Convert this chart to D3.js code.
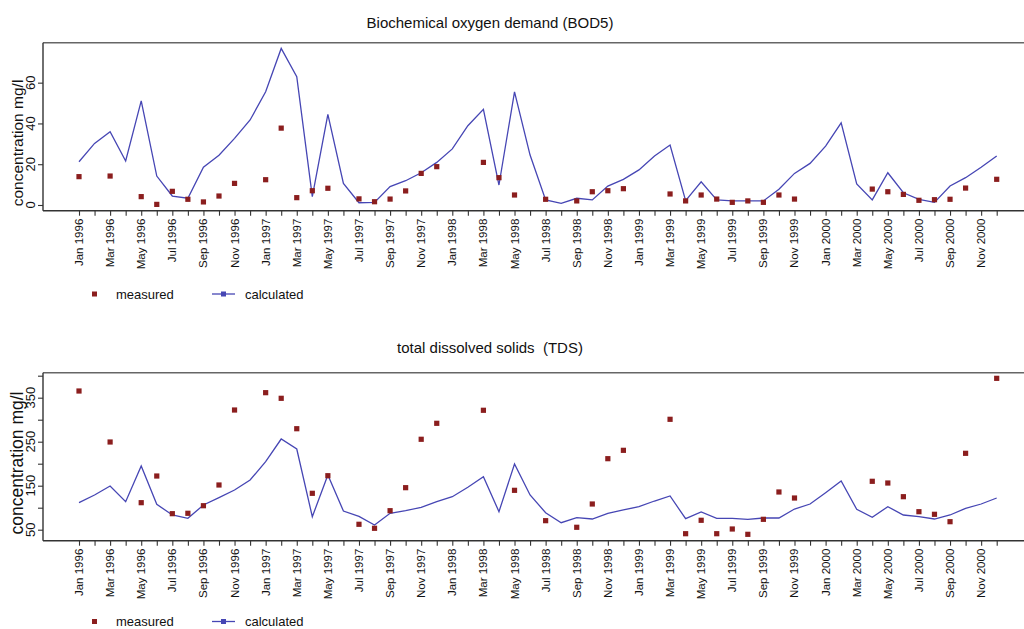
<!DOCTYPE html>
<html><head><meta charset="utf-8">
<script src="https://cdn.jsdelivr.net/npm/d3@7"></script>
<style>
html,body{margin:0;padding:0;background:#fff;}
svg{display:block;font-family:"Liberation Sans",Arial,sans-serif;}
text{white-space:pre;}
</style></head>
<body>
<svg id="chart" width="1024" height="629"></svg>
<script>
// ---- data ----
const tickLabels = ["Jan 1996","Mar 1996","May 1996","Jul 1996","Sep 1996","Nov 1996",
 "Jan 1997","Mar 1997","May 1997","Jul 1997","Sep 1997","Nov 1997",
 "Jan 1998","Mar 1998","May 1998","Jul 1998","Sep 1998","Nov 1998",
 "Jan 1999","Mar 1999","May 1999","Jul 1999","Sep 1999","Nov 1999",
 "Jan 2000","Mar 2000","May 2000","Jul 2000","Sep 2000","Nov 2000"];

const bodCalculated = [21.2,30.2,35.9,21.6,51.1,14.2,4.4,3.3,18.5,24.4,32.7,41.7,
 55.5,76.8,62.9,4.1,44.4,10.6,1.1,1.3,9.0,11.9,15.8,20.9,
 27.5,38.9,46.9,9.8,55.5,24.5,2.5,0.8,3.3,2.5,9.3,12.6,
 17.2,24.0,29.4,2.1,11.4,2.5,2.0,2.0,2.0,7.7,15.5,20.4,
 28.9,40.3,10.3,2.5,15.8,6.0,2.8,1.3,9.3,13.4,18.5,24.0];

const bodMeasured = [13.9,null,14.2,null,4.1,0.3,6.7,2.8,1.5,4.4,10.6,null,
 12.4,37.7,3.6,7.0,8.2,null,3.0,1.6,2.9,6.9,15.5,18.8,
 null,null,20.9,13.4,4.9,null,2.8,null,2.0,6.5,7.0,8.0,
 null,null,5.4,2.0,4.9,2.9,1.3,2.0,1.3,4.9,2.9,null,
 null,null,null,7.8,6.5,5.2,2.3,2.6,2.8,8.3,null,12.6];

const tdsCalculated = [111.4,128.9,149.3,113.6,194.8,107.7,83.4,75.9,106.1,122.7,140.2,163,
 204.5,256.1,233.4,79.5,174.3,92.5,80.3,60.7,87.3,93.2,100.9,113.6,
 125,146.4,170.5,90.9,199.3,128.9,88.6,65.9,77.3,74.3,87.3,94.8,
 102.3,115.2,126.6,75,90.5,75.9,75.9,73.6,76.6,76.6,97,108.4,
 134.1,160.7,96.4,78.2,102.3,83.4,79.5,74.3,83.4,98.6,108.4,122];

const tdsMeasured = [365.2,null,249.3,null,111.4,172,86.4,87.3,104.5,151.6,322,null,
 361.4,348.6,279.5,132.7,172.7,null,62.3,53.2,93.2,145.5,255.5,291.8,
 null,null,321.4,null,139.5,null,70.5,null,55.5,108.4,211.4,230.4,
 null,null,300.9,40.9,71.4,40.9,51.6,39.5,73.6,135.7,122,null,
 null,null,null,160,156.1,125,90.9,85,68.2,223.6,null,394];

const bodTicks = [0,20,40,60];
const tdsTicks = [50,100,150,200,250,300,350,400];
const tdsTickLabels = [50,150,250,350];

const titles = ["Biochemical oxygen demand (BOD5)", "total dissolved solids  (TDS)"];
const yTitle = "concentration mg/l";
const legendLabels = ["measured", "calculated"];

// ---- drawing ----
const svg = d3.select("#chart");
const lineColor = "#4646b4";
const markColor = "#8b1e1e";
const months = d3.range(bodCalculated.length);
const x = d3.scaleLinear().domain([0, months.length - 1]).range([79, 996.7]);

function panel(cfg) {
  const g = svg.append("g");
  const y = d3.scaleLinear().domain(cfg.domain).range([cfg.bottom, cfg.top]);

  g.append("text").attr("x", 490).attr("y", cfg.titleY).attr("text-anchor", "middle")
    .attr("font-size", 15).attr("fill", "#111").text(cfg.title);

  g.append("line").attr("x1", 43).attr("x2", 1024).attr("y1", cfg.top).attr("y2", cfg.top)
    .attr("stroke", "#666").attr("stroke-width", 1.4);

  const xAxis = d3.axisBottom(x).tickValues(months).tickSize(5).tickFormat(() => "");
  const xg = g.append("g").attr("transform", `translate(0,${cfg.bottom})`).call(xAxis);
  xg.select(".domain").attr("d", `M43,0H1024`).attr("stroke", "#333").attr("stroke-width", 1.4);
  xg.selectAll(".tick line").attr("stroke", "#333").attr("stroke-width", 1.1);
  g.selectAll(".xlab").data(tickLabels).enter().append("text")
    .attr("transform", (d, i) => `translate(${x(i * 2) + 4},${cfg.bottom + 8}) rotate(-90)`)
    .attr("text-anchor", "end").attr("font-size", 11.5).attr("fill", "#111").text(d => d);

  const yAxis = d3.axisLeft(y).tickValues(cfg.ticks).tickSize(5).tickFormat(() => "");
  const yg = g.append("g").attr("transform", "translate(43,0)").call(yAxis);
  yg.select(".domain").attr("d", `M0,${cfg.top}V${cfg.bottom}`).attr("stroke", "#333").attr("stroke-width", 1.4);
  yg.selectAll(".tick line").attr("stroke", "#333").attr("stroke-width", 1.1);
  g.selectAll(".ylab").data(cfg.tickLabels).enter().append("text")
    .attr("transform", d => `translate(34.5,${y(d)}) rotate(-90)`)
    .attr("text-anchor", "middle").attr("font-size", 13).attr("fill", "#111").text(d => d);

  g.append("text").attr("transform", `translate(23,${cfg.yTitleY}) rotate(-90)`)
    .attr("text-anchor", "middle").attr("font-size", cfg.yTitleSize).attr("fill", "#111").text(yTitle);

  const line = d3.line().x((d, i) => x(i)).y(d => y(d));
  g.append("path").datum(cfg.calc).attr("d", line).attr("fill", "none")
    .attr("stroke", lineColor).attr("stroke-width", 1.3);

  g.selectAll(".m").data(cfg.meas.map((v, i) => ({v, i})).filter(d => d.v !== null))
    .enter().append("rect")
    .attr("x", d => x(d.i) - 2.6).attr("y", d => y(d.v) - 2.6)
    .attr("width", 5.2).attr("height", 5.2).attr("fill", markColor);

  const ly = cfg.legendY;
  g.append("rect").attr("x", 92).attr("y", ly - 2.5).attr("width", 5).attr("height", 5).attr("fill", markColor);
  g.append("text").attr("x", 116).attr("y", ly + 4.5).attr("font-size", 13).attr("fill", "#111").text(legendLabels[0]);
  g.append("line").attr("x1", 212).attr("x2", 235).attr("y1", ly).attr("y2", ly).attr("stroke", lineColor).attr("stroke-width", 1.3);
  g.append("rect").attr("x", 221).attr("y", ly - 2.5).attr("width", 5).attr("height", 5).attr("fill", lineColor);
  g.append("text").attr("x", 245).attr("y", ly + 4.5).attr("font-size", 13).attr("fill", "#111").text(legendLabels[1]);
}

panel({title: titles[0], titleY: 28, top: 42.7, bottom: 210.7, domain: [-2.8, 79.6],
  ticks: bodTicks, tickLabels: bodTicks, calc: bodCalculated, meas: bodMeasured,
  yTitleY: 143, yTitleSize: 15.5, legendY: 294});
panel({title: titles[1], titleY: 353, top: 372.7, bottom: 540.7, domain: [25, 406.8],
  ticks: tdsTicks, tickLabels: tdsTickLabels, calc: tdsCalculated, meas: tdsMeasured,
  yTitleY: 463, yTitleSize: 17.5, legendY: 621.5});
</script>
</body></html>
